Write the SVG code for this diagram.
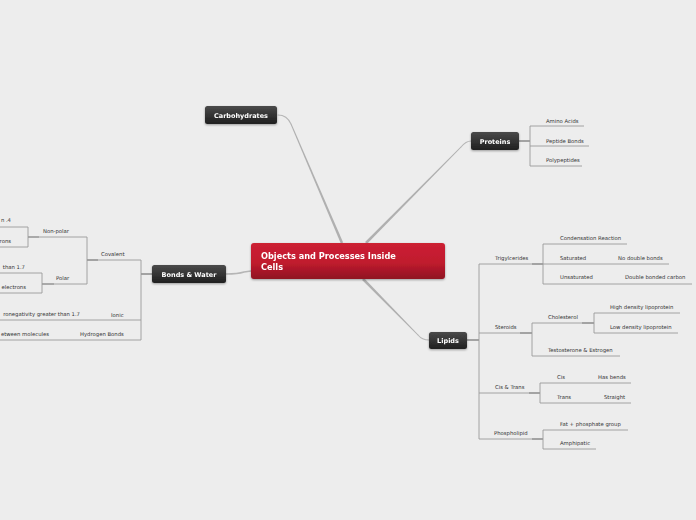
<svg xmlns="http://www.w3.org/2000/svg" width="696" height="520" viewBox="0 0 696 520">
<defs>
<linearGradient id="gDark" x1="0" y1="0" x2="0" y2="1">
<stop offset="0" stop-color="#4a4a4a"/><stop offset="1" stop-color="#1f1f1f"/>
</linearGradient>
<linearGradient id="gRed" x1="0" y1="0" x2="0" y2="1">
<stop offset="0" stop-color="#cc2033"/><stop offset="0.55" stop-color="#c01c2e"/><stop offset="1" stop-color="#8f1222"/>
</linearGradient>
<filter id="sh" x="-10%" y="-20%" width="120%" height="150%">
<feDropShadow dx="0" dy="1" stdDeviation="0.8" flood-color="#000" flood-opacity="0.35"/>
</filter>
</defs>
<style>
.bg{fill:#ededed}
.taper{fill:#b0b0b0;stroke:none}
.main{fill:none;stroke:#b5b5b5;stroke-width:1.1;stroke-linecap:round}
.ln{fill:none;stroke:#9a9a9a;stroke-width:0.9}
.dk{fill:none;stroke:#666;stroke-width:1.1}
.t{font-family:"DejaVu Sans",Verdana,sans-serif;font-size:5.3px;fill:#333}
.nt{font-family:"DejaVu Sans",Verdana,sans-serif;font-size:6.5px;font-weight:bold;fill:#fff;text-anchor:middle}
.ct{font-family:"DejaVu Sans",Verdana,sans-serif;font-size:8.2px;font-weight:bold;fill:#fff}
</style>
<rect class="bg" width="696" height="520"/>
<g id="connectors">
<polygon class="taper" points="343.19,242.49 340.81,243.51 290.54,124.2 291.46,123.8"/>
<path class="main" d="M291,124 Q287,115 278,115"/>
<polygon class="taper" points="366.92,243.91 365.08,242.09 460.64,146.65 461.36,147.35"/>
<path class="main" d="M461,147 Q466,141 471,141"/>
<polygon class="taper" points="362.07,279.91 363.93,278.09 418.36,334.65 417.64,335.35"/>
<path class="main" d="M418,335 Q422,340 429,340"/>
<path class="main" d="M226,274 Q238,274 244,272 L251,271" style="stroke-width:1.4"/>
<!-- Proteins -->
<path class="dk" d="M519,141 H530"/>
<path class="ln" d="M530,126 V166 M530,126 H584 M530,146 H589 M530,166 H582"/>
<!-- Lipids -->
<path class="dk" d="M467,340 H479"/>
<path class="ln" d="M479,264 V439"/>
<path class="ln" d="M479,264 H532"/><path class="dk" d="M532,264 H543"/>
<path class="ln" d="M543,244 V284 M543,244 H627 M543,264 H669 M543,284 H692"/>
<path class="ln" d="M479,333 H520"/><path class="dk" d="M520,333 H532"/>
<path class="ln" d="M532,323 V356 M532,323 H582 M532,356 H620"/><path class="dk" d="M582,323 H594"/>
<path class="ln" d="M594,313 V333 M594,313 H680 M594,333 H678"/>
<path class="ln" d="M479,393 H529"/><path class="dk" d="M529,393 H540"/>
<path class="ln" d="M540,383 V403 M540,383 H631 M540,403 H631"/>
<path class="ln" d="M479,439 H532"/><path class="dk" d="M532,439 H543"/>
<path class="ln" d="M543,430 V449 M543,430 H628 M543,449 H596"/>
<!-- Bonds & Water -->
<path class="dk" d="M152,274 H141"/>
<path class="ln" d="M141,260 V340"/>
<path class="ln" d="M141,260 H98"/><path class="dk" d="M98,260 H87"/>
<path class="ln" d="M87,237 V284 M87,237 H39 M87,284 H54"/><path class="dk" d="M39,237 H28 M54,284 H42"/>
<path class="ln" d="M28,227 V247 M28,227 H0 M28,247 H0"/>
<path class="ln" d="M42,273 V293 M42,273 H0 M42,293 H0"/>
<path class="ln" d="M141,320 H0"/>
<path class="ln" d="M141,340 H0"/>
</g>
<g id="center" filter="url(#sh)">
<rect x="251" y="243" width="194" height="36" rx="3" fill="url(#gRed)"/>
<text class="ct" x="261" y="259">Objects and Processes Inside</text>
<text class="ct" x="261" y="270">Cells</text>
</g>
<g id="carbohydrates" filter="url(#sh)">
<rect x="205" y="106" width="72" height="18" rx="2.5" fill="url(#gDark)"/>
<text class="nt" x="241" y="117.5">Carbohydrates</text>
</g>
<g id="proteins" filter="url(#sh)">
<rect x="471" y="132" width="48" height="18" rx="2.5" fill="url(#gDark)"/>
<text class="nt" x="495" y="143.5">Proteins</text>
</g>
<g id="bonds" filter="url(#sh)">
<rect x="152" y="265" width="74" height="18" rx="2.5" fill="url(#gDark)"/>
<text class="nt" x="189" y="276.5">Bonds &amp; Water</text>
</g>
<g id="lipids" filter="url(#sh)">
<rect x="429" y="332" width="38" height="17" rx="2.5" fill="url(#gDark)"/>
<text class="nt" x="448" y="343">Lipids</text>
</g>
<g id="proteins-children">
<text class="t" x="546" y="123">Amino Acids</text>
<text class="t" x="546" y="143">Peptide Bonds</text>
<text class="t" x="546" y="162">Polypeptides</text>
</g>
<g id="lipids-children">
<text class="t" x="495" y="260">Trigylcerides</text>
<text class="t" x="560" y="240">Condensation Reaction</text>
<text class="t" x="560" y="260">Saturated</text>
<text class="t" x="618" y="260">No double bonds</text>
<text class="t" x="560" y="279">Unsaturated</text>
<text class="t" x="625" y="279">Double bonded carbon</text>
<text class="t" x="495" y="329">Steroids</text>
<text class="t" x="548" y="319">Cholesterol</text>
<text class="t" x="610" y="309">High density lipoprotein</text>
<text class="t" x="610" y="329">Low density lipoprotein</text>
<text class="t" x="548" y="352">Testosterone &amp; Estrogen</text>
<text class="t" x="495" y="389">Cis &amp; Trans</text>
<text class="t" x="557" y="379">Cis</text>
<text class="t" x="598" y="379">Has bends</text>
<text class="t" x="557" y="399">Trans</text>
<text class="t" x="604" y="399">Straight</text>
<text class="t" x="494" y="435">Phospholipid</text>
<text class="t" x="560" y="426">Fat + phosphate group</text>
<text class="t" x="560" y="445">Amphipatic</text>
</g>
<g id="bonds-children">
<text class="t" x="101" y="256">Covalent</text>
<text class="t" x="43" y="233">Non-polar</text>
<text class="t" x="11" y="222" text-anchor="end">n .4</text>
<text class="t" x="11" y="243" text-anchor="end">rons</text>
<text class="t" x="56" y="280">Polar</text>
<text class="t" x="25" y="269" text-anchor="end">than 1.7</text>
<text class="t" x="26" y="289" text-anchor="end">electrons</text>
<text class="t" x="111" y="317">Ionic</text>
<text class="t" x="80" y="316" text-anchor="end">ronegativity greater than 1.7</text>
<text class="t" x="80" y="336">Hydrogen Bonds</text>
<text class="t" x="49" y="336" text-anchor="end">etween molecules</text>
</g>
</svg>
